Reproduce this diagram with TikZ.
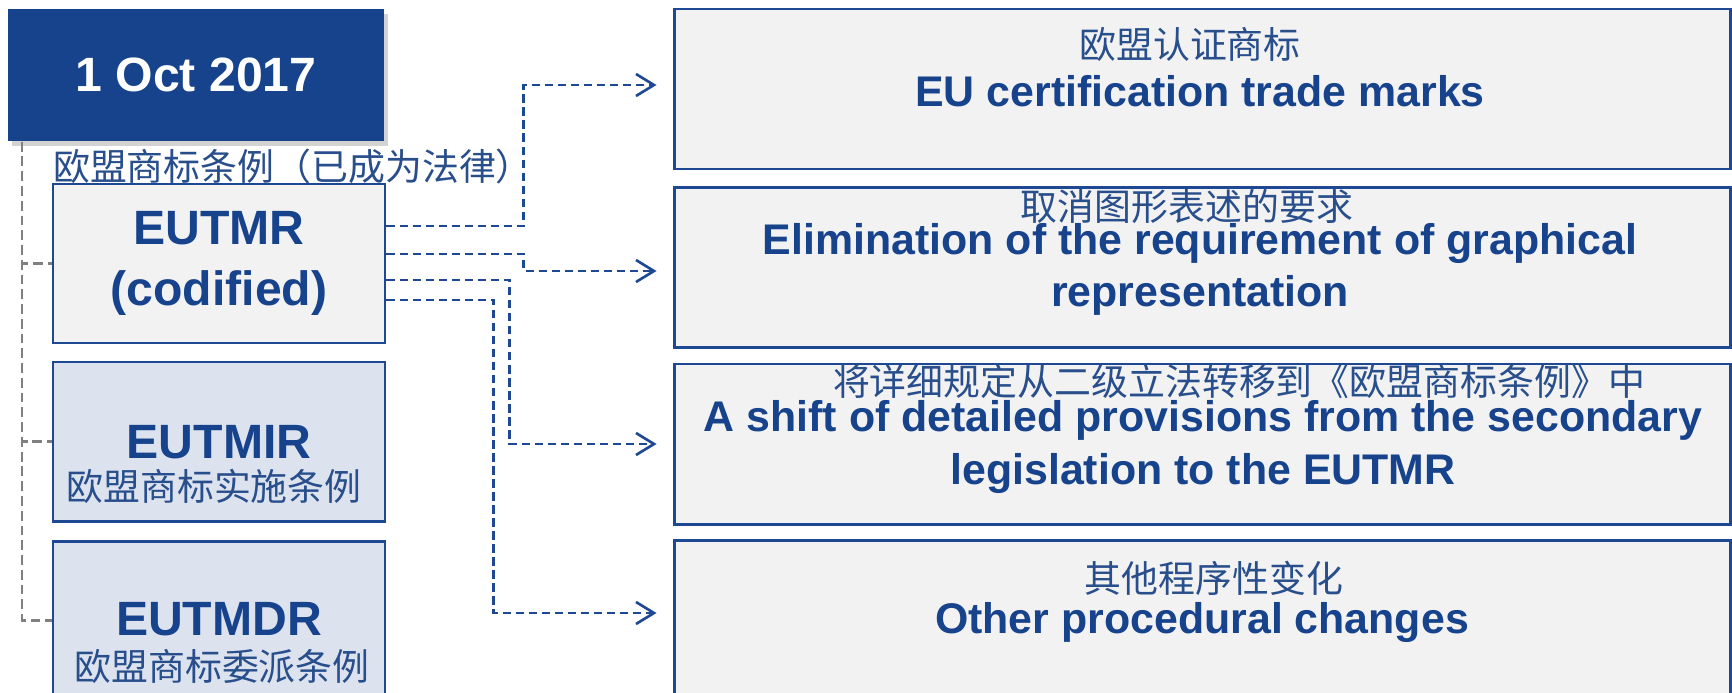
\documentclass[tikz,border=0pt]{standalone}
\usepackage{fontspec}
\setmainfont{Liberation Sans}
\newfontfamily\cjk{Noto Sans CJK SC}
\usetikzlibrary{arrows.meta,shadows}
\definecolor{datefill}{RGB}{23,66,140}
\definecolor{boxline}{RGB}{31,72,148}
\definecolor{entext}{RGB}{23,66,140}
\definecolor{zhtext}{RGB}{40,78,140}
\definecolor{greyfill}{RGB}{242,242,242}
\definecolor{bluefill}{RGB}{220,227,239}

\begin{document}
\begin{tikzpicture}[
  leftbox/.style={draw=boxline, line width=0.85pt, minimum width=3.32cm, minimum height=1.59cm, inner sep=0pt},
  rightbox/.style={draw=boxline, line width=0.85pt, fill=greyfill, minimum width=10.56cm, minimum height=1.6cm, inner sep=0pt},
  en/.style={text=entext, font=\bfseries\fontsize{13.7}{17.4}\selectfont, align=center, inner sep=0pt},
  enr/.style={text=entext, font=\bfseries\fontsize{12.2}{14.8}\selectfont, align=center, inner sep=0pt},
  zh/.style={text=zhtext, font=\cjk\fontsize{10.5}{12}\selectfont, inner sep=0pt},
  conn/.style={boxline, line width=0.75pt, dash pattern=on 2.4pt off 1.3pt, -{Straight Barb[length=0.18cm, width=0.22cm]}},
  greyline/.style={gray, line width=0.65pt, dash pattern=on 2.8pt off 1.4pt}
]
\useasboundingbox (0,0) rectangle (17.32,6.92);
\clip (0,0) rectangle (17.32,6.92);

\node[fill=datefill, minimum width=3.76cm, minimum height=1.32cm, inner sep=0pt, text=white,
  font=\bfseries\fontsize{13.7}{16}\selectfont,
  drop shadow={shadow xshift=0.04cm, shadow yshift=-0.05cm, opacity=0.35}] (date) at (1.96,6.17) {1 Oct 2017};

\node[leftbox, fill=greyfill, en] (eutmr) at (2.19,4.285) {EUTMR\\(codified)};
\node[leftbox, fill=bluefill] (eutmir) at (2.19,2.505) {};
\node[leftbox, fill=bluefill] (eutmdr) at (2.19,0.715) {};

\draw[greyline] ([xshift=0.15cm]date.south west) |- (eutmdr.west);
\draw[greyline] ([xshift=0.15cm]date.south west) |- (eutmir.west);
\draw[greyline] ([xshift=0.15cm]date.south west) |- (eutmr.west);

\node[zh] (eutmrzh) at (2.93,5.26) {欧盟商标条例（已成为法律）};
\node[en] (eutmirname) at (2.19,2.50) {EUTMIR};
\node[zh] (eutmirzh) at (2.14,2.06) {欧盟商标实施条例};
\node[en] (eutmdrname) at (2.19,0.73) {EUTMDR};
\node[zh] (eutmdrzh) at (2.22,0.26) {欧盟商标委派条例};

\node[rightbox] (cert) at (12.02,6.03) {};
\node[rightbox] (graph) at (12.02,4.245) {};
\node[rightbox] (shift) at (12.02,2.48) {};
\node[rightbox] (other) at (12.02,0.72) {};

\node[zh] at (11.90,6.48) {欧盟认证商标};
\node[enr] at (12.00,6.01) {EU certification trade marks};
\node[zh] at (11.87,4.85) {取消图形表述的要求};
\node[enr] at (12.00,4.225) {Elimination of the requirement of graphical\\representation};
\node[zh] at (12.39,3.11) {将详细规定从二级立法转移到《欧盟商标条例》中};
\node[enr] at (12.03,2.45) {A shift of detailed provisions from the secondary\\legislation to the EUTMR};
\node[zh] at (12.14,1.14) {其他程序性变化};
\node[enr] at (12.02,0.70) {Other procedural changes};

\draw[conn] ([yshift=0.375cm]eutmr.east) -- ++(1.37,0) |- ([xshift=-0.16cm,yshift=0.04cm]cert.west);
\draw[conn] ([yshift=0.095cm]eutmr.east) -- ++(1.37,0) |- ([xshift=-0.16cm,yshift=-0.035cm]graph.west);
\draw[conn] ([yshift=-0.165cm]eutmr.east) -- ++(1.23,0) |- ([xshift=-0.16cm]shift.west);
\draw[conn] ([yshift=-0.365cm]eutmr.east) -- ++(1.07,0) |- ([xshift=-0.16cm,yshift=0.07cm]other.west);
\end{tikzpicture}
\end{document}
